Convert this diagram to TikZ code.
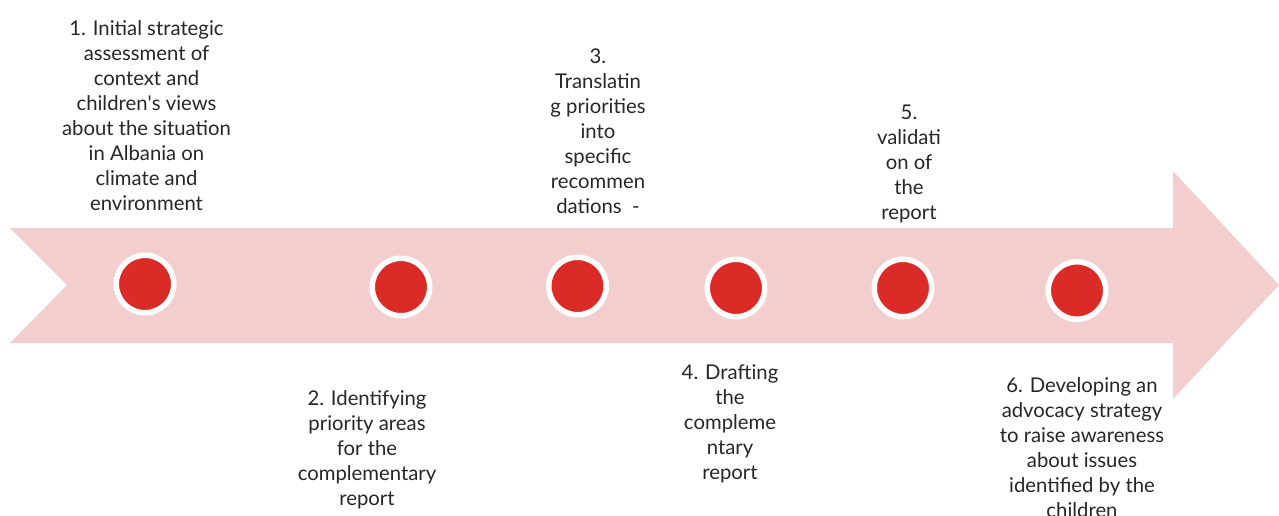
\documentclass[tikz,border=0pt]{standalone}
\usepackage{fontspec}
\setmainfont{Lato}
\definecolor{bandpink}{HTML}{F2CFCE}
\definecolor{dotred}{HTML}{DA2B27}
\begin{document}
\begin{tikzpicture}[x=1pt,y=-1pt,
  dot/.style={circle,fill=dotred,draw=white,line width=5.5pt,minimum size=57.5pt,inner sep=0pt},
  steplabel/.style={anchor=north,align=center,inner sep=0pt,text=black!85,
    font=\fontsize{20.3}{25}\selectfont}]
\useasboundingbox (0,0) rectangle (1279,515);
% timeline band with notched tail and arrow head
\fill[bandpink] (10,228) -- (1173,228) -- (1173,171) -- (1279,285)
  -- (1173,399) -- (1173,343) -- (10,343) -- (67,285) -- cycle;
% milestone dots
\node[dot] (d1) at (145,284) {};
\node[dot] (d2) at (401,287) {};
\node[dot] (d3) at (577.5,286) {};
\node[dot] (d4) at (736,288) {};
\node[dot] (d5) at (903,288) {};
\node[dot] (d6) at (1077,290.5) {};
% step descriptions
\node[steplabel] (t1) at (146.5,20) {1. Initial strategic\\assessment of\\context and\\children\textquotesingle s views\\about the situation\\in Albania on\\climate and\\environment};
\node[steplabel] (t2) at (367,390) {2. Identifying\\priority areas\\for the\\complementary\\report};
\node[steplabel] (t3) at (598,49) {3.\\Translatin\\g priorities\\into\\specific\\recommen\\dations~~-};
\node[steplabel] (t4) at (730,364.5) {4. Drafting\\the\\compleme\\ntary\\report};
\node[steplabel] (t5) at (909,105) {5.\\validati\\on of\\the\\report};
\node[steplabel] (t6) at (1082,377.5) {6. Developing an\\advocacy strategy\\to raise awareness\\about issues\\identified by the\\children};
\end{tikzpicture}
\end{document}
